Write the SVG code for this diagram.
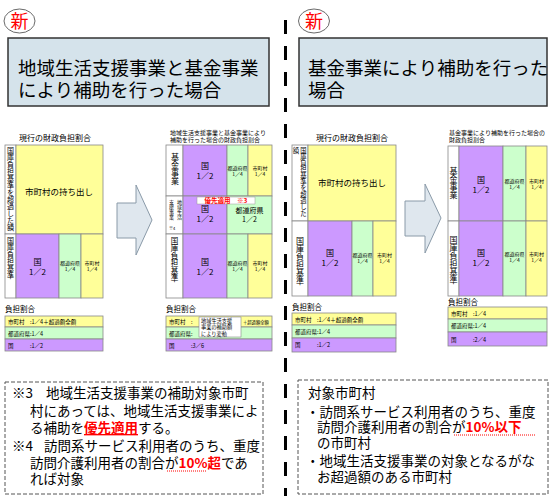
<svg xmlns="http://www.w3.org/2000/svg" width="552" height="496" viewBox="0 0 552 496">
<style>
text{font-family:"Noto Sans CJK JP","Liberation Sans",sans-serif;fill:#000}
.c{text-anchor:middle}
.v{writing-mode:vertical-rl}
.p{fill:#cc99ff;stroke:#888;stroke-width:0.8}
.g{fill:#ccffcc;stroke:#888;stroke-width:0.8}
.y{fill:#ffff99;stroke:#888;stroke-width:0.8}
.w{fill:#fff;stroke:#888;stroke-width:0.8}
.tb{fill:#d5e3eb;stroke:#333;stroke-width:1.5}
.arr{fill:#dfe7ee;stroke:#8a9aa8;stroke-width:1}
.note{fill:#fff;stroke:#555;stroke-width:1;stroke-dasharray:4 2}
.red{fill:#ff0000;font-weight:bold}
</style>

<g id="divider"><line x1="285.5" y1="20" x2="285.5" y2="496" stroke="#000" stroke-width="3" stroke-dasharray="14 12"/></g>

<g id="new-left">
<ellipse cx="19.5" cy="21" rx="15.5" ry="12" fill="#fff" stroke="#444" stroke-width="0.8"/>
<text x="19.5" y="28" class="c" font-size="18" style="fill:#ff0000">新</text>
</g>
<g id="new-right">
<ellipse cx="314" cy="21" rx="15.5" ry="12" fill="#fff" stroke="#444" stroke-width="0.8"/>
<text x="314" y="28" class="c" font-size="18" style="fill:#ff0000">新</text>
</g>

<g id="title-left">
<rect x="8" y="38" width="261" height="68" class="tb"/>
<text x="18" y="75" font-size="18.5">地域生活支援事業と基金事業</text>
<text x="18" y="97" font-size="18.5">により補助を行った場合</text>
</g>
<g id="title-right">
<rect x="299" y="38" width="248" height="68" class="tb"/>
<text x="308" y="75" font-size="18.5">基金事業により補助を行った</text>
<text x="308" y="97" font-size="18.5">場合</text>
</g>

<!-- Diagram 1 -->
<g id="d1">
<text x="55" y="141" class="c" font-size="8">現行の財政負担割合</text>
<rect x="5" y="145" width="11" height="89" class="w"/>
<rect x="16" y="145" width="87" height="89" class="y"/>
<rect x="5" y="234" width="11" height="64" class="w"/>
<rect x="16" y="234" width="43" height="64" class="p"/>
<rect x="59" y="234" width="22" height="64" class="g"/>
<rect x="81" y="234" width="22" height="64" class="y"/>
<text x="10.5" y="147" class="v" font-size="7">国庫負担基準を超過した額</text>
<text x="10.5" y="237" class="v" font-size="7">国庫負担基準</text>
<text x="59" y="195" class="c" font-size="8.5">市町村の持ち出し</text>
<text x="37.5" y="265" class="c" font-size="8">国</text>
<text x="37.5" y="275" class="c" font-size="8">1／2</text>
<text x="70" y="265" class="c" font-size="5">都道府県</text>
<text x="70" y="271" class="c" font-size="5">1／4</text>
<text x="92" y="265" class="c" font-size="5">市町村</text>
<text x="92" y="271" class="c" font-size="5">1／4</text>
<text x="5" y="312" font-size="7.5">負担割合</text>
<rect x="5" y="316" width="98" height="11" class="y"/>
<rect x="5" y="327" width="98" height="12" class="g"/>
<rect x="5" y="339" width="98" height="12" class="p"/>
<text x="8" y="324" font-size="5.5">市町村　:1／4＋超過額全額</text>
<text x="8" y="335.5" font-size="5.5">都道府県:1／4</text>
<text x="8" y="347.5" font-size="5.5">国　　　:1／2</text>
</g>

<g id="arrow1"><polygon class="arr" points="117,203 136,203 136,185 152,220 136,255 136,238 117,238"/></g>

<!-- Diagram 2 -->
<g id="d2">
<text x="170" y="135" font-size="6">地域生活支援事業と基金事業により</text>
<text x="170" y="141.5" font-size="6">補助を行った場合の財政負担割合</text>
<rect x="166" y="145" width="17" height="51" class="w"/>
<rect x="183" y="145" width="44" height="51" class="p"/>
<rect x="227" y="145" width="21" height="51" class="g"/>
<rect x="248" y="145" width="24" height="51" class="y"/>
<rect x="166" y="196" width="17" height="38" class="w"/>
<rect x="183" y="196" width="44" height="38" class="p"/>
<rect x="227" y="196" width="45" height="38" class="g"/>
<rect x="166" y="234" width="17" height="64" class="w"/>
<rect x="183" y="234" width="44" height="64" class="p"/>
<rect x="227" y="234" width="21" height="64" class="g"/>
<rect x="248" y="234" width="24" height="64" class="y"/>
<text x="175" y="153" class="v" font-size="8">基金事業</text>
<text x="179.5" y="200" class="v" font-size="5">地域生活</text>
<text x="171.5" y="200" class="v" font-size="5">支援事業</text>
<text x="169" y="230" font-size="4">※4</text>
<text x="174.5" y="237" class="v" font-size="7.5">国庫負担基準</text>
<text x="205" y="169" class="c" font-size="8">国</text>
<text x="205" y="179" class="c" font-size="8">1／2</text>
<text x="237.5" y="169.5" class="c" font-size="5">都道府県</text>
<text x="237.5" y="175.5" class="c" font-size="5">1／4</text>
<text x="260" y="169.5" class="c" font-size="5">市町村</text>
<text x="260" y="175.5" class="c" font-size="5">1／4</text>
<text x="205" y="212" class="c" font-size="8">国</text>
<text x="205" y="222" class="c" font-size="8">1／2</text>
<text x="249.5" y="213" class="c" font-size="7">都道府県</text>
<text x="249.5" y="222" class="c" font-size="7">1／2</text>
<rect x="197" y="197" width="58" height="7" fill="#fff" stroke="#999" stroke-width="0.5"/>
<text x="226" y="203" class="c red" font-size="6.5">優先適用　※3</text>
<text x="205" y="265" class="c" font-size="8">国</text>
<text x="205" y="275" class="c" font-size="8">1／2</text>
<text x="237.5" y="265" class="c" font-size="5">都道府県</text>
<text x="237.5" y="271" class="c" font-size="5">1／4</text>
<text x="260" y="265" class="c" font-size="5">市町村</text>
<text x="260" y="271" class="c" font-size="5">1／4</text>
<text x="166" y="312" font-size="7.5">負担割合</text>
<rect x="166" y="316" width="106" height="11" class="y"/>
<rect x="166" y="327" width="106" height="12" class="g"/>
<rect x="166" y="339" width="106" height="12" class="p"/>
<text x="169" y="324" font-size="5.5">市町村　:</text>
<text x="169" y="335.5" font-size="5.5">都道府県:</text>
<text x="169" y="347.5" font-size="5.5">国　　　:3／6</text>
<rect x="199" y="317" width="42" height="20" fill="#fff" stroke="#888" stroke-width="0.6"/>
<text x="201" y="323" font-size="5.2">地域生活支援</text>
<text x="201" y="329.3" font-size="5.2">事業の補助額</text>
<text x="201" y="335.6" font-size="5.2">により変動</text>
<text x="243" y="323.5" font-size="4.3">＋超過額全額</text>
</g>

<!-- Diagram 3 -->
<g id="d3">
<text x="352" y="141" class="c" font-size="8">現行の財政負担割合</text>
<rect x="292" y="145" width="16" height="76" class="w"/>
<rect x="308" y="145" width="88" height="76" class="y"/>
<rect x="292" y="221" width="16" height="75" class="w"/>
<rect x="308" y="221" width="44" height="75" class="p"/>
<rect x="352" y="221" width="21" height="75" class="g"/>
<rect x="373" y="221" width="23" height="75" class="y"/>
<text x="296" y="147" class="v" font-size="6.3">額</text>
<text x="303.5" y="147" class="v" font-size="6.3">国庫負担基準を超過した</text>
<text x="300" y="237" class="v" font-size="8">国庫負担基準</text>
<text x="352" y="186" class="c" font-size="8.5">市町村の持ち出し</text>
<text x="330" y="256" class="c" font-size="8">国</text>
<text x="330" y="266" class="c" font-size="8">1／2</text>
<text x="362.5" y="256.5" class="c" font-size="5">都道府県</text>
<text x="362.5" y="262.5" class="c" font-size="5">1／4</text>
<text x="384.5" y="256.5" class="c" font-size="5">市町村</text>
<text x="384.5" y="262.5" class="c" font-size="5">1／4</text>
<text x="292" y="310" font-size="7.5">負担割合</text>
<rect x="292" y="313" width="104" height="12" class="y"/>
<rect x="292" y="325" width="104" height="13" class="g"/>
<rect x="292" y="338" width="104" height="14" class="p"/>
<text x="295" y="321.5" font-size="5.5">市町村　:1／4＋超過額全額</text>
<text x="295" y="334" font-size="5.5">都道府県:1／4</text>
<text x="295" y="347" font-size="5.5">国　　　:1／2</text>
</g>

<g id="arrow2"><polygon class="arr" points="405,201 425,201 425,184 441,218 425,253 425,236 405,236"/></g>

<!-- Diagram 4 -->
<g id="d4">
<text x="449" y="135" font-size="6">基金事業により補助を行った場合の</text>
<text x="449" y="141.5" font-size="6">財政負担割合</text>
<rect x="448" y="146" width="11" height="75" class="w"/>
<rect x="459" y="146" width="44" height="75" class="p"/>
<rect x="503" y="146" width="23" height="75" class="g"/>
<rect x="526" y="146" width="21" height="75" class="y"/>
<rect x="448" y="221" width="11" height="75" class="w"/>
<rect x="459" y="221" width="44" height="75" class="p"/>
<rect x="503" y="221" width="23" height="75" class="g"/>
<rect x="526" y="221" width="21" height="75" class="y"/>
<text x="453.5" y="167" class="v" font-size="8">基金事業</text>
<text x="453.5" y="236" class="v" font-size="8">国庫負担基準</text>
<text x="481" y="183" class="c" font-size="8">国</text>
<text x="481" y="193" class="c" font-size="8">1／2</text>
<text x="514.5" y="182.5" class="c" font-size="5">都道府県</text>
<text x="514.5" y="188.5" class="c" font-size="5">1／4</text>
<text x="536.5" y="182.5" class="c" font-size="5">市町村</text>
<text x="536.5" y="188.5" class="c" font-size="5">1／4</text>
<text x="481" y="256" class="c" font-size="8">国</text>
<text x="481" y="266" class="c" font-size="8">1／2</text>
<text x="514.5" y="255.5" class="c" font-size="5">都道府県</text>
<text x="514.5" y="261.5" class="c" font-size="5">1／4</text>
<text x="536.5" y="255.5" class="c" font-size="5">市町村</text>
<text x="536.5" y="261.5" class="c" font-size="5">1／4</text>
<text x="448" y="305" font-size="7.5">負担割合</text>
<rect x="448" y="307" width="99" height="12" class="y"/>
<rect x="448" y="319" width="99" height="13" class="g"/>
<rect x="448" y="332" width="99" height="14" class="p"/>
<text x="451" y="315.5" font-size="5.5">市町村　:1／4</text>
<text x="451" y="328" font-size="5.5">都道府県:1／4</text>
<text x="451" y="341.5" font-size="5.5">国　　　:2／4</text>
</g>

<!-- Notes -->
<g id="note-left">
<rect x="5" y="382" width="258" height="112" class="note"/>
<text x="12" y="398" font-size="13.5">※3</text>
<text x="46" y="398" font-size="13.5">地域生活支援事業の補助対象市町</text>
<text x="30" y="416" font-size="13.5">村にあっては、地域生活支援事業によ</text>
<text x="30" y="433" font-size="13.5">る補助を<tspan class="red" text-decoration="underline">優先適用</tspan>する。</text>
<text x="12" y="451" font-size="13.5">※4</text>
<text x="44" y="451" font-size="13.5">訪問系サービス利用者のうち、重度</text>
<text x="30" y="468" font-size="13.5">訪問介護利用者の割合が<tspan class="red">10%超</tspan>であ</text>
<line x1="167" y1="471" x2="207" y2="471" stroke="#ff0000" stroke-width="1" stroke-dasharray="1 1"/>
<text x="30" y="484" font-size="13.5">れば対象</text>
</g>
<g id="note-right">
<rect x="298" y="380" width="250" height="114" class="note"/>
<text x="308" y="398" font-size="13.5">対象市町村</text>
<text x="306" y="417" font-size="13.5">・訪問系サービス利用者のうち、重度</text>
<text x="317" y="432" font-size="13.5">訪問介護利用者の割合が<tspan class="red">10%以下</tspan></text>
<line x1="454" y1="435" x2="535" y2="435" stroke="#ff0000" stroke-width="1" stroke-dasharray="1 1"/>
<text x="317" y="448" font-size="13.5">の市町村</text>
<text x="306" y="466" font-size="13.5">・地域生活支援事業の対象となるがな</text>
<text x="317" y="482" font-size="13.5">お超過額のある市町村</text>
</g>
</svg>
